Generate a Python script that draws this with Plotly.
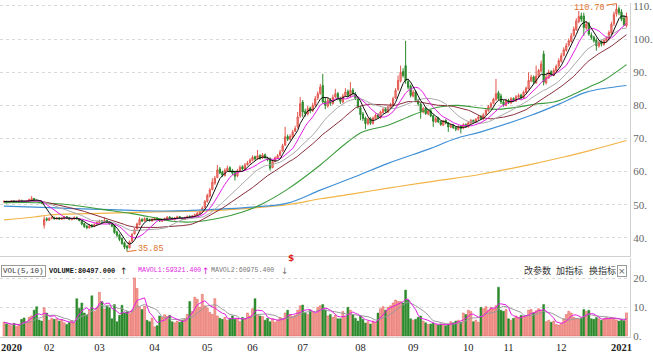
import plotly.graph_objects as go
import pandas as pd

# ---------------- data ----------------
month_labels = ["2020", "02", "03", "04", "05", "06", "07", "08", "09", "10", "11", "12", "2021"]
month_starts = [0, 16, 36, 58, 79, 97, 117, 140, 161, 183, 199, 220, 243]

# closes of the 30 sessions before the window (only used to seed the short averages)
seed_closes = [49.8, 50.1, 50.4, 50.2, 50.6, 50.9, 50.7, 51.0, 51.3, 51.1, 50.8, 51.2, 51.5, 51.3, 51.0,
               50.7, 50.9, 51.2, 51.4, 51.1, 50.8, 50.6, 50.9, 51.1, 51.3, 51.0, 50.7, 50.9, 51.2, 51.0]

opens = [
    50.8, 51.0, 50.7, 50.9, 51.2, 50.8, 51.0, 51.3, 51.1, 50.9, 51.2, 51.4, 51.9, 51.4, 51.0, 50.8,
    43.8, 45.8, 45.3, 45.9, 46.2, 45.7, 46.0, 45.6, 45.8, 46.4, 46.1, 45.5, 45.7, 46.2, 45.7, 45.0, 44.3, 43.5, 43.0, 43.8,
    43.5, 44.1, 44.6, 45.1, 44.8, 45.3, 44.8, 44.3, 43.8, 41.8, 40.9, 39.8, 38.5, 37.5, 37.0, 39.0, 41.2, 42.7, 44.0, 45.6, 45.1, 45.9,
    45.4, 45.1, 45.5, 46.0, 45.6, 45.0, 45.3, 45.7, 46.3, 46.0, 45.5, 45.9, 46.4, 46.1, 45.6, 46.0, 46.5, 46.1, 46.5, 46.9, 47.3,
    48.0, 49.2, 51.0, 52.6, 54.6, 56.5, 58.2, 60.8, 59.9, 58.8, 60.2, 61.2, 60.3, 59.8, 58.7, 60.0, 61.5, 60.6,
    62.1, 62.7, 63.4, 64.5, 63.9, 64.9, 64.1, 65.1, 64.1, 64.0, 61.2, 63.1, 64.0, 64.9, 66.2, 68.0, 70.6, 69.7, 70.5, 72.2,
    73.5, 76.8, 81.0, 78.2, 77.4, 79.2, 78.4, 80.1, 82.2, 83.6, 86.0, 81.2, 79.8, 81.6, 80.5, 82.6, 83.6, 82.1, 81.0, 82.9, 84.2, 82.8, 84.6,
    83.4, 82.2, 79.3, 77.4, 76.2, 74.4, 76.0, 74.5, 76.0, 77.2, 76.3, 77.8, 79.0, 78.0, 79.4, 80.0, 82.2, 84.8, 87.3, 90.2, 92.0,
    87.2, 85.8, 82.8, 84.1, 81.4, 80.4, 78.0, 79.2, 77.4, 78.4, 76.9, 75.0, 76.2, 75.1, 74.0, 75.5, 74.8, 73.4, 74.1, 73.3, 72.7, 73.8,
    73.1, 74.3, 73.5, 74.7, 75.5, 74.8, 75.9, 76.7, 75.9, 77.3, 78.4, 79.5, 80.6, 81.7, 83.8, 82.8,
    81.0, 80.0, 81.6, 80.7, 82.1, 81.3, 82.5, 83.1, 82.2, 83.9, 85.0, 87.4, 88.6, 86.8, 88.7, 90.4, 95.5, 86.8, 88.3, 90.2, 89.0,
    90.4, 91.9, 93.3, 95.1, 96.6, 98.2, 99.3, 101.2, 102.8, 105.3, 107.0, 107.0, 103.3, 104.8, 101.2, 100.6, 99.7, 97.9, 99.2, 98.4, 99.5, 100.0, 101.8,
    104.6, 107.6, 109.2, 108.2, 106.3, 104.0,
]
highs = [
    51.3, 51.2, 51.1, 51.4, 51.3, 51.2, 51.6, 51.5, 51.2, 51.4, 51.8, 52.6, 52.0, 51.5, 51.2, 51.0,
    46.5, 46.2, 46.2, 46.5, 46.4, 46.3, 46.2, 46.1, 46.6, 46.6, 46.3, 46.0, 46.5, 46.4, 45.9, 45.3, 44.6, 43.9, 44.2, 44.2,
    44.4, 45.0, 45.5, 45.4, 46.2, 45.4, 45.0, 44.5, 44.0, 42.2, 41.3, 40.1, 38.9, 37.9, 39.2, 41.5, 43.0, 44.6, 46.2, 45.9, 46.2, 46.1,
    45.8, 45.9, 46.3, 46.2, 45.8, 45.7, 46.1, 46.6, 46.5, 46.2, 46.3, 46.7, 46.6, 46.3, 46.4, 46.8, 46.8, 46.9, 47.3, 47.8, 48.4,
    49.5, 51.4, 53.3, 55.0, 58.0, 58.7, 62.0, 61.4, 60.3, 61.0, 61.8, 61.6, 60.8, 60.2, 60.8, 61.9, 61.9, 62.6,
    63.2, 64.0, 64.9, 64.8, 66.5, 65.2, 65.6, 65.5, 64.5, 64.3, 63.5, 64.6, 65.3, 66.6, 68.4, 73.5, 71.2, 71.3, 72.6, 73.8,
    78.0, 82.5, 81.6, 79.0, 79.8, 79.6, 80.8, 82.8, 84.2, 86.5, 89.5, 82.2, 82.4, 82.2, 83.2, 85.0, 84.0, 82.6, 83.5, 85.2, 84.8, 87.0, 85.2,
    84.0, 82.6, 79.8, 78.0, 76.6, 76.3, 76.4, 76.6, 77.5, 77.6, 78.4, 79.3, 79.4, 79.9, 80.7, 82.6, 85.2, 89.0, 92.0, 91.2, 99.5,
    88.0, 86.3, 84.6, 84.5, 82.0, 80.8, 79.6, 79.5, 78.8, 78.6, 77.2, 76.5, 76.5, 75.4, 75.6, 75.8, 75.0, 74.4, 74.3, 73.6, 74.0, 74.1,
    74.6, 74.5, 75.2, 75.9, 75.7, 76.2, 77.0, 77.0, 77.6, 78.9, 80.1, 81.0, 82.3, 88.0, 84.4, 83.5,
    81.6, 82.0, 82.0, 82.5, 82.4, 83.1, 83.6, 83.5, 84.5, 85.7, 90.0, 89.2, 89.0, 92.0, 91.0, 93.5, 96.5, 89.5, 90.8, 90.6, 91.2,
    92.3, 94.2, 95.8, 97.5, 98.8, 100.2, 101.8, 103.8, 106.3, 108.5, 108.0, 108.0, 105.5, 105.2, 102.0, 101.0, 100.3, 99.6, 99.8, 100.2, 100.9, 102.6, 105.2,
    108.3, 110.7, 109.8, 109.0, 107.2, 108.0,
]
lows = [
    50.5, 50.4, 50.5, 50.7, 50.6, 50.6, 50.8, 50.9, 50.6, 50.7, 51.0, 51.2, 51.2, 50.8, 50.5, 50.2,
    42.8, 45.0, 45.1, 45.6, 45.5, 45.5, 45.4, 45.4, 45.6, 45.8, 45.3, 45.3, 45.5, 45.5, 45.0, 43.8, 43.0, 42.6, 42.8, 43.0,
    43.2, 43.9, 44.4, 44.5, 44.6, 44.5, 44.0, 43.2, 41.2, 40.2, 39.0, 37.9, 36.6, 35.85, 36.8, 38.8, 41.0, 42.5, 43.8, 44.8, 44.9, 45.1,
    44.9, 44.9, 45.3, 45.3, 44.8, 44.8, 45.1, 45.5, 45.7, 45.4, 45.3, 45.7, 45.8, 45.5, 45.4, 45.8, 46.0, 45.9, 46.3, 46.7, 47.1,
    47.6, 48.9, 50.6, 52.2, 54.3, 56.0, 58.0, 59.2, 58.4, 58.5, 59.9, 59.8, 59.0, 57.3, 58.3, 59.8, 60.3, 60.4,
    61.8, 62.4, 63.1, 63.4, 63.6, 63.6, 63.8, 63.9, 63.1, 60.3, 61.0, 62.8, 63.8, 64.6, 66.0, 67.8, 69.2, 69.4, 70.2, 71.9,
    73.0, 76.2, 76.5, 76.6, 76.9, 77.6, 78.0, 79.6, 81.6, 83.2, 80.5, 78.8, 79.3, 79.9, 80.2, 82.1, 81.5, 80.4, 80.6, 82.5, 82.4, 82.5, 83.0,
    81.6, 79.0, 75.5, 75.3, 72.8, 74.0, 74.1, 74.2, 75.7, 76.0, 76.0, 77.5, 77.8, 77.7, 79.0, 79.7, 81.9, 84.4, 86.9, 88.4, 86.5,
    84.8, 82.4, 82.4, 81.0, 79.8, 76.0, 77.6, 77.1, 77.0, 76.4, 73.5, 74.7, 74.7, 73.8, 73.8, 74.3, 72.0, 73.1, 72.9, 72.2, 72.4, 71.5,
    72.8, 73.2, 73.3, 74.4, 74.5, 74.6, 75.6, 75.6, 75.7, 77.0, 78.1, 79.2, 80.3, 81.4, 81.6, 80.4,
    79.6, 79.7, 80.4, 80.5, 81.0, 81.1, 82.3, 81.8, 82.0, 83.6, 84.8, 87.0, 86.4, 86.5, 88.4, 90.0, 86.0, 86.3, 88.0, 88.7, 88.8,
    89.9, 91.4, 92.9, 94.8, 96.2, 97.7, 98.9, 100.8, 102.5, 104.8, 105.2, 101.0, 102.8, 101.0, 99.8, 98.9, 96.5, 97.4, 97.8, 98.0, 99.0, 99.6, 101.4,
    104.0, 106.8, 107.2, 105.4, 104.0, 103.5,
]
closes = [
    51.0, 50.6, 50.9, 51.2, 50.8, 51.0, 51.3, 51.1, 50.8, 51.2, 51.5, 51.9, 51.4, 51.0, 50.7, 50.5,
    45.6, 45.4, 45.9, 46.2, 45.8, 46.0, 45.7, 45.9, 46.3, 46.0, 45.6, 45.8, 46.1, 45.7, 45.2, 44.2, 43.4, 43.1, 43.6, 43.4,
    44.0, 44.6, 45.0, 44.8, 45.2, 44.7, 44.2, 43.5, 41.6, 40.8, 39.5, 38.3, 37.2, 36.9, 38.8, 41.0, 42.5, 44.2, 45.5, 45.0, 45.8, 45.4,
    45.2, 45.6, 45.9, 45.5, 45.1, 45.4, 45.8, 46.2, 45.9, 45.6, 46.0, 46.3, 46.0, 45.7, 46.1, 46.4, 46.2, 46.6, 47.0, 47.4, 47.9,
    49.0, 51.0, 52.8, 54.5, 56.8, 58.0, 60.5, 59.6, 58.9, 60.4, 61.0, 60.2, 59.5, 58.6, 60.2, 61.3, 60.8, 62.0,
    62.6, 63.5, 64.3, 63.8, 64.8, 64.0, 65.0, 64.2, 63.5, 61.0, 63.0, 64.2, 64.8, 66.0, 67.8, 70.5, 69.8, 70.6, 72.0, 73.0,
    76.5, 80.5, 78.0, 77.5, 79.0, 78.3, 80.0, 82.0, 83.5, 85.5, 81.0, 80.0, 81.5, 80.6, 82.4, 83.5, 82.0, 81.2, 82.8, 84.0, 83.0, 84.5, 83.6,
    82.0, 79.5, 77.2, 76.0, 74.5, 75.8, 74.6, 76.2, 77.0, 76.4, 78.0, 78.8, 78.2, 79.5, 80.2, 82.0, 84.5, 87.5, 90.0, 89.0, 87.5,
    85.5, 83.0, 84.0, 81.5, 80.5, 78.2, 79.0, 77.5, 78.3, 76.8, 75.2, 76.0, 75.0, 74.2, 75.3, 74.6, 73.5, 74.0, 73.2, 72.8, 73.6, 73.0,
    74.2, 73.6, 74.8, 75.4, 74.9, 75.8, 76.5, 76.0, 77.2, 78.5, 79.6, 80.5, 81.8, 83.5, 82.0, 81.0,
    80.2, 81.5, 80.8, 82.0, 81.4, 82.6, 83.0, 82.2, 84.0, 85.2, 87.5, 88.5, 87.0, 88.8, 90.5, 92.5, 87.0, 88.5, 90.0, 89.2, 90.5,
    91.8, 93.5, 95.0, 96.8, 98.0, 99.5, 101.0, 103.0, 105.5, 106.8, 106.0, 103.5, 104.5, 101.5, 100.5, 99.5, 98.0, 99.0, 98.5, 99.6, 100.2, 102.0, 104.5,
    107.5, 109.0, 108.0, 106.0, 104.3, 106.8,
]
volumes = [
    4.8, 4.2, 3.9, 3.6, 4.4, 3.3, 4.0, 5.8, 6.3, 5.0, 6.5, 7.0, 9.0, 10.2, 5.6, 5.2,
    9.8, 8.0, 5.5, 6.2, 5.8, 6.0, 5.2, 5.6, 4.6, 4.0, 4.8, 5.4, 4.5, 13.0, 9.6, 11.5, 8.0, 7.2, 9.0, 14.0,
    8.5, 10.0, 15.2, 12.0, 9.4, 10.5, 9.8, 6.0, 11.0, 5.0, 7.2, 10.7, 8.0, 8.5, 7.8, 9.0, 20.2, 16.5, 10.0, 9.2, 10.4, 5.5,
    5.0, 6.2, 3.2, 3.6, 7.0, 6.5, 7.4, 6.8, 7.2, 5.0, 4.6, 5.2, 4.8, 5.5, 6.0, 7.5, 12.0, 8.5, 13.5, 12.8, 10.0,
    14.5, 10.5, 9.8, 8.2, 7.5, 13.0, 7.0, 6.2, 5.8, 6.5, 5.5, 6.0, 7.0, 5.8, 6.2, 5.0, 6.5, 6.0,
    8.0, 7.0, 9.5, 13.0, 7.5, 7.0, 6.8, 5.5, 6.2, 5.0, 6.0, 4.8, 5.6, 6.5, 6.0, 8.0, 9.0, 7.5, 6.8, 7.2,
    9.0, 10.5, 10.8, 8.0, 7.5, 9.0, 8.2, 7.8, 10.0, 10.5, 11.0, 9.0, 7.0, 7.5, 6.5, 7.2, 6.0, 6.0, 8.5, 6.8, 10.0, 9.0, 7.5,
    6.2, 5.2, 7.0, 5.8, 4.5, 5.0, 4.2, 5.2, 4.8, 8.0, 9.5, 10.2, 9.0, 10.0, 10.5, 11.5, 12.5, 12.0, 12.0, 11.5, 16.0,
    12.5, 6.0, 5.5, 5.8, 6.5, 7.0, 5.2, 4.6, 4.0, 4.2, 4.4, 4.0, 3.8, 4.2, 4.0, 3.6, 4.2, 5.0, 4.6, 5.2, 5.5, 4.8,
    8.0, 7.5, 9.0, 8.5, 5.0, 5.5, 4.8, 10.0, 9.5, 10.2, 9.0, 10.0, 9.4, 10.5, 17.0, 9.0,
    8.6, 9.2, 6.0, 5.5, 6.2, 7.0, 6.5, 7.2, 7.0, 6.8, 9.0, 9.2, 8.0, 8.8, 9.5, 9.0, 11.0, 5.0, 5.5, 4.8, 5.2,
    4.0, 3.8, 4.4, 6.0, 7.5, 8.6, 8.0, 6.5, 6.0, 5.8, 6.2, 9.2, 8.5, 9.0, 6.0, 5.8, 6.4, 6.0, 5.5, 6.0, 6.4, 6.2, 6.5,
    6.2, 5.6, 5.2, 5.5, 5.3, 8.05,
]

# long averages (session index, value)
ma60_idx = [0, 13, 26, 39, 51, 59, 67, 75, 86, 95, 103, 113, 126, 137, 143, 153, 161, 166, 174, 181, 190, 196, 204, 212, 219, 226, 233, 239, 248]
ma60_val = [50.6, 50.6, 50.0, 48.6, 47.3, 46.2, 45.0, 44.8, 46.0, 47.8, 50.3, 54.7, 62.0, 69.0, 72.0, 74.0, 76.5, 78.0, 79.6, 80.0, 79.2, 78.8, 79.4, 80.4, 81.0, 83.0, 85.5, 87.6, 92.3]
ma120_idx = [0, 12, 25, 38, 51, 62, 73, 86, 99, 113, 126, 139, 153, 170, 180, 190, 210, 223, 232, 248]
ma120_val = [49.6, 49.3, 48.9, 48.6, 48.3, 48.1, 48.2, 48.7, 49.3, 50.5, 54.4, 58.2, 62.5, 67.0, 70.0, 72.0, 77.0, 81.0, 84.0, 86.0]
ma250_idx = [0, 12, 18, 38, 65, 86, 99, 113, 126, 139, 153, 166, 174, 190, 210, 223, 234, 248]
ma250_val = [45.4, 46.3, 46.9, 47.4, 47.9, 48.3, 49.0, 50.0, 51.8, 53.3, 55.0, 56.5, 57.4, 59.2, 62.2, 64.4, 66.5, 69.4]

y_ticks = [40, 50, 60, 70, 80, 90, 100, 110]
vol_ticks = [0, 10, 20]

# ---------------- derived ----------------
n = len(closes)
idx = list(range(n))
all_close = pd.Series(seed_closes + closes)
ns = len(seed_closes)
ma = {p: all_close.rolling(p).mean().iloc[ns:].tolist() for p in (5, 10, 20, 30)}
vs = pd.Series(volumes)
mavol1 = vs.rolling(5, min_periods=1).mean().tolist()
mavol2 = vs.rolling(10, min_periods=1).mean().tolist()

UP_FILL, UP_LINE = "#f3a29c", "#e2564d"
DN = "#2c8a2c"
up = [c >= o for o, c in zip(opens, closes)]

W, H = 653, 356
L, R, T, B = 0, 23, 0, 19
PW, PH = W - L - R, H - T - B
def px(x):
    return (x - L) / PW
def py(y):
    return (H - B - y) / PH

fig = go.Figure()
fig.add_trace(go.Candlestick(
    x=idx, open=opens, high=highs, low=lows, close=closes,
    increasing=dict(line=dict(color=UP_LINE, width=1), fillcolor=UP_FILL),
    decreasing=dict(line=dict(color=DN, width=1), fillcolor=DN),
    whiskerwidth=0, xaxis="x", yaxis="y", hoverinfo="skip"))

line_specs = [
    (ma250_idx, ma250_val, "#f2b446", 1.2, True),
    (ma120_idx, ma120_val, "#3f8fd6", 1.2, True),
    (ma60_idx, ma60_val, "#3c9c3c", 1.1, True),
    (idx, ma[30], "#8a2f3c", 1.0, False),
    (idx, ma[20], "#a9a9a9", 1.0, False),
    (idx, ma[10], "#e21ee2", 1.0, False),
    (idx, ma[5], "#111111", 1.0, False),
]
for xs, ys, col, w, smooth in line_specs:
    fig.add_trace(go.Scatter(x=xs, y=ys, mode="lines",
                             line=dict(color=col, width=w, shape="spline" if smooth else "linear"),
                             xaxis="x", yaxis="y", hoverinfo="skip"))

fig.add_trace(go.Bar(
    x=idx, y=volumes, width=0.78,
    marker=dict(color=[UP_FILL if u else DN for u in up],
                line=dict(color=[UP_LINE if u else DN for u in up], width=0.5)),
    xaxis="x2", yaxis="y2", hoverinfo="skip"))
fig.add_trace(go.Scatter(x=idx, y=mavol2, mode="lines", line=dict(color="#9a9a9a", width=1), xaxis="x2", yaxis="y2", hoverinfo="skip"))
fig.add_trace(go.Scatter(x=idx, y=mavol1, mode="lines", line=dict(color="#e21ee2", width=1), xaxis="x2", yaxis="y2", hoverinfo="skip"))

x_range = [-1.6, 249.4]
main_dom = [py(255), 1.0]
vol_dom = [0.0, py(257)]
grid = dict(showgrid=True, gridcolor="#d9d9d9", griddash="dot", gridwidth=1)
tickfont = dict(family="Liberation Serif", size=11, color="#666666")

fig.update_layout(
    width=W, height=H, margin=dict(l=L, r=R, t=T, b=B),
    paper_bgcolor="white", plot_bgcolor="white", showlegend=False,
    xaxis=dict(range=x_range, domain=[0, 1], showticklabels=False, showgrid=False, zeroline=False,
               showline=True, linecolor="#d0d0d0", linewidth=1, rangeslider=dict(visible=False), anchor="y"),
    yaxis=dict(domain=main_dom, range=[34.6, 110.9], side="right", tickvals=y_ticks,
               ticktext=[f"{v}." for v in y_ticks], tickfont=tickfont, ticks="", zeroline=False,
               ticklabeloverflow="allow",
               showline=True, linecolor="#d0d0d0", linewidth=1, anchor="x", **grid),
    xaxis2=dict(range=x_range, domain=[0, 1], matches="x", anchor="y2", showgrid=False, zeroline=False,
                tickvals=[s + (3 if len(lab) == 4 else 2) for s, lab in zip(month_starts, month_labels)],
                ticktext=[f"<b>{lab}</b>" if len(lab) == 4 else lab for lab in month_labels],
                tickfont=dict(family="Liberation Serif", size=10.5, color="#222222"), ticks="",
                ticklabeloverflow="allow",
                showline=True, linecolor="#d0d0d0", linewidth=1),
    yaxis2=dict(domain=vol_dom, range=[-0.34, 27.24], side="right", tickvals=vol_ticks,
                ticktext=[f"{v}." for v in vol_ticks], tickfont=tickfont, ticks="", zeroline=False,
                ticklabeloverflow="allow",
                showline=True, linecolor="#d0d0d0", linewidth=1, anchor="x2", **grid),
)

mono = "Liberation Mono"
ann = []
def text(x, y, s, color="#333333", size=8, family=mono, **kw):
    ann.append(dict(x=px(x), y=py(y), xref="paper", yref="paper", text=s, showarrow=False,
                    xanchor="left", yanchor="middle", font=dict(family=family, size=size, color=color), **kw))

text(1, 270, "VOL(5,10)", color="#333333", size=7.5, bordercolor="#9a9a9a", borderwidth=1, borderpad=1)
text(47, 270, "<b>VOLUME:80497.000</b>", color="#111111", size=6.9)
text(118, 270, "↑", color="#222222", size=9, family="DejaVu Sans")
text(136, 270, "MAVOL1:59321.400", color="#e21ee2", size=6.6)
text(200, 270, "↑", color="#e21ee2", size=9, family="DejaVu Sans")
text(209, 270, "MAVOL2:60975.400", color="#777777", size=6.6)
text(279, 270, "↓", color="#777777", size=9, family="DejaVu Sans")
text(522, 270, "改参数", color="#333333", size=9, family="Noto Sans CJK SC")
text(554, 270, "加指标", color="#333333", size=9, family="Noto Sans CJK SC")
text(587, 270, "换指标", color="#333333", size=9, family="Noto Sans CJK SC")
text(617, 270, "×", color="#666666", size=9, family="DejaVu Sans", bordercolor="#9a9a9a", borderwidth=1, borderpad=0)
text(286, 257, "<b>$</b>", color="#e02424", size=9, family="DejaVu Sans")

# price extremes
hi_i = highs.index(max(highs))
lo_i = lows.index(min(lows))
ann.append(dict(x=hi_i, y=highs[hi_i], xref="x", yref="y", text=f"{highs[hi_i]:.2f}", showarrow=True,
                ax=-27, ay=4, arrowhead=0, arrowwidth=1, arrowcolor="#e0702a",
                font=dict(family=mono, size=8.5, color="#e0702a")))
ann.append(dict(x=lo_i, y=lows[lo_i], xref="x", yref="y", text=f"{lows[lo_i]:.2f}", showarrow=True,
                ax=24, ay=-3, arrowhead=0, arrowwidth=1, arrowcolor="#e0702a",
                font=dict(family=mono, size=8.5, color="#e0702a")))
fig.update_layout(annotations=ann)

fig.write_html("out.html")
